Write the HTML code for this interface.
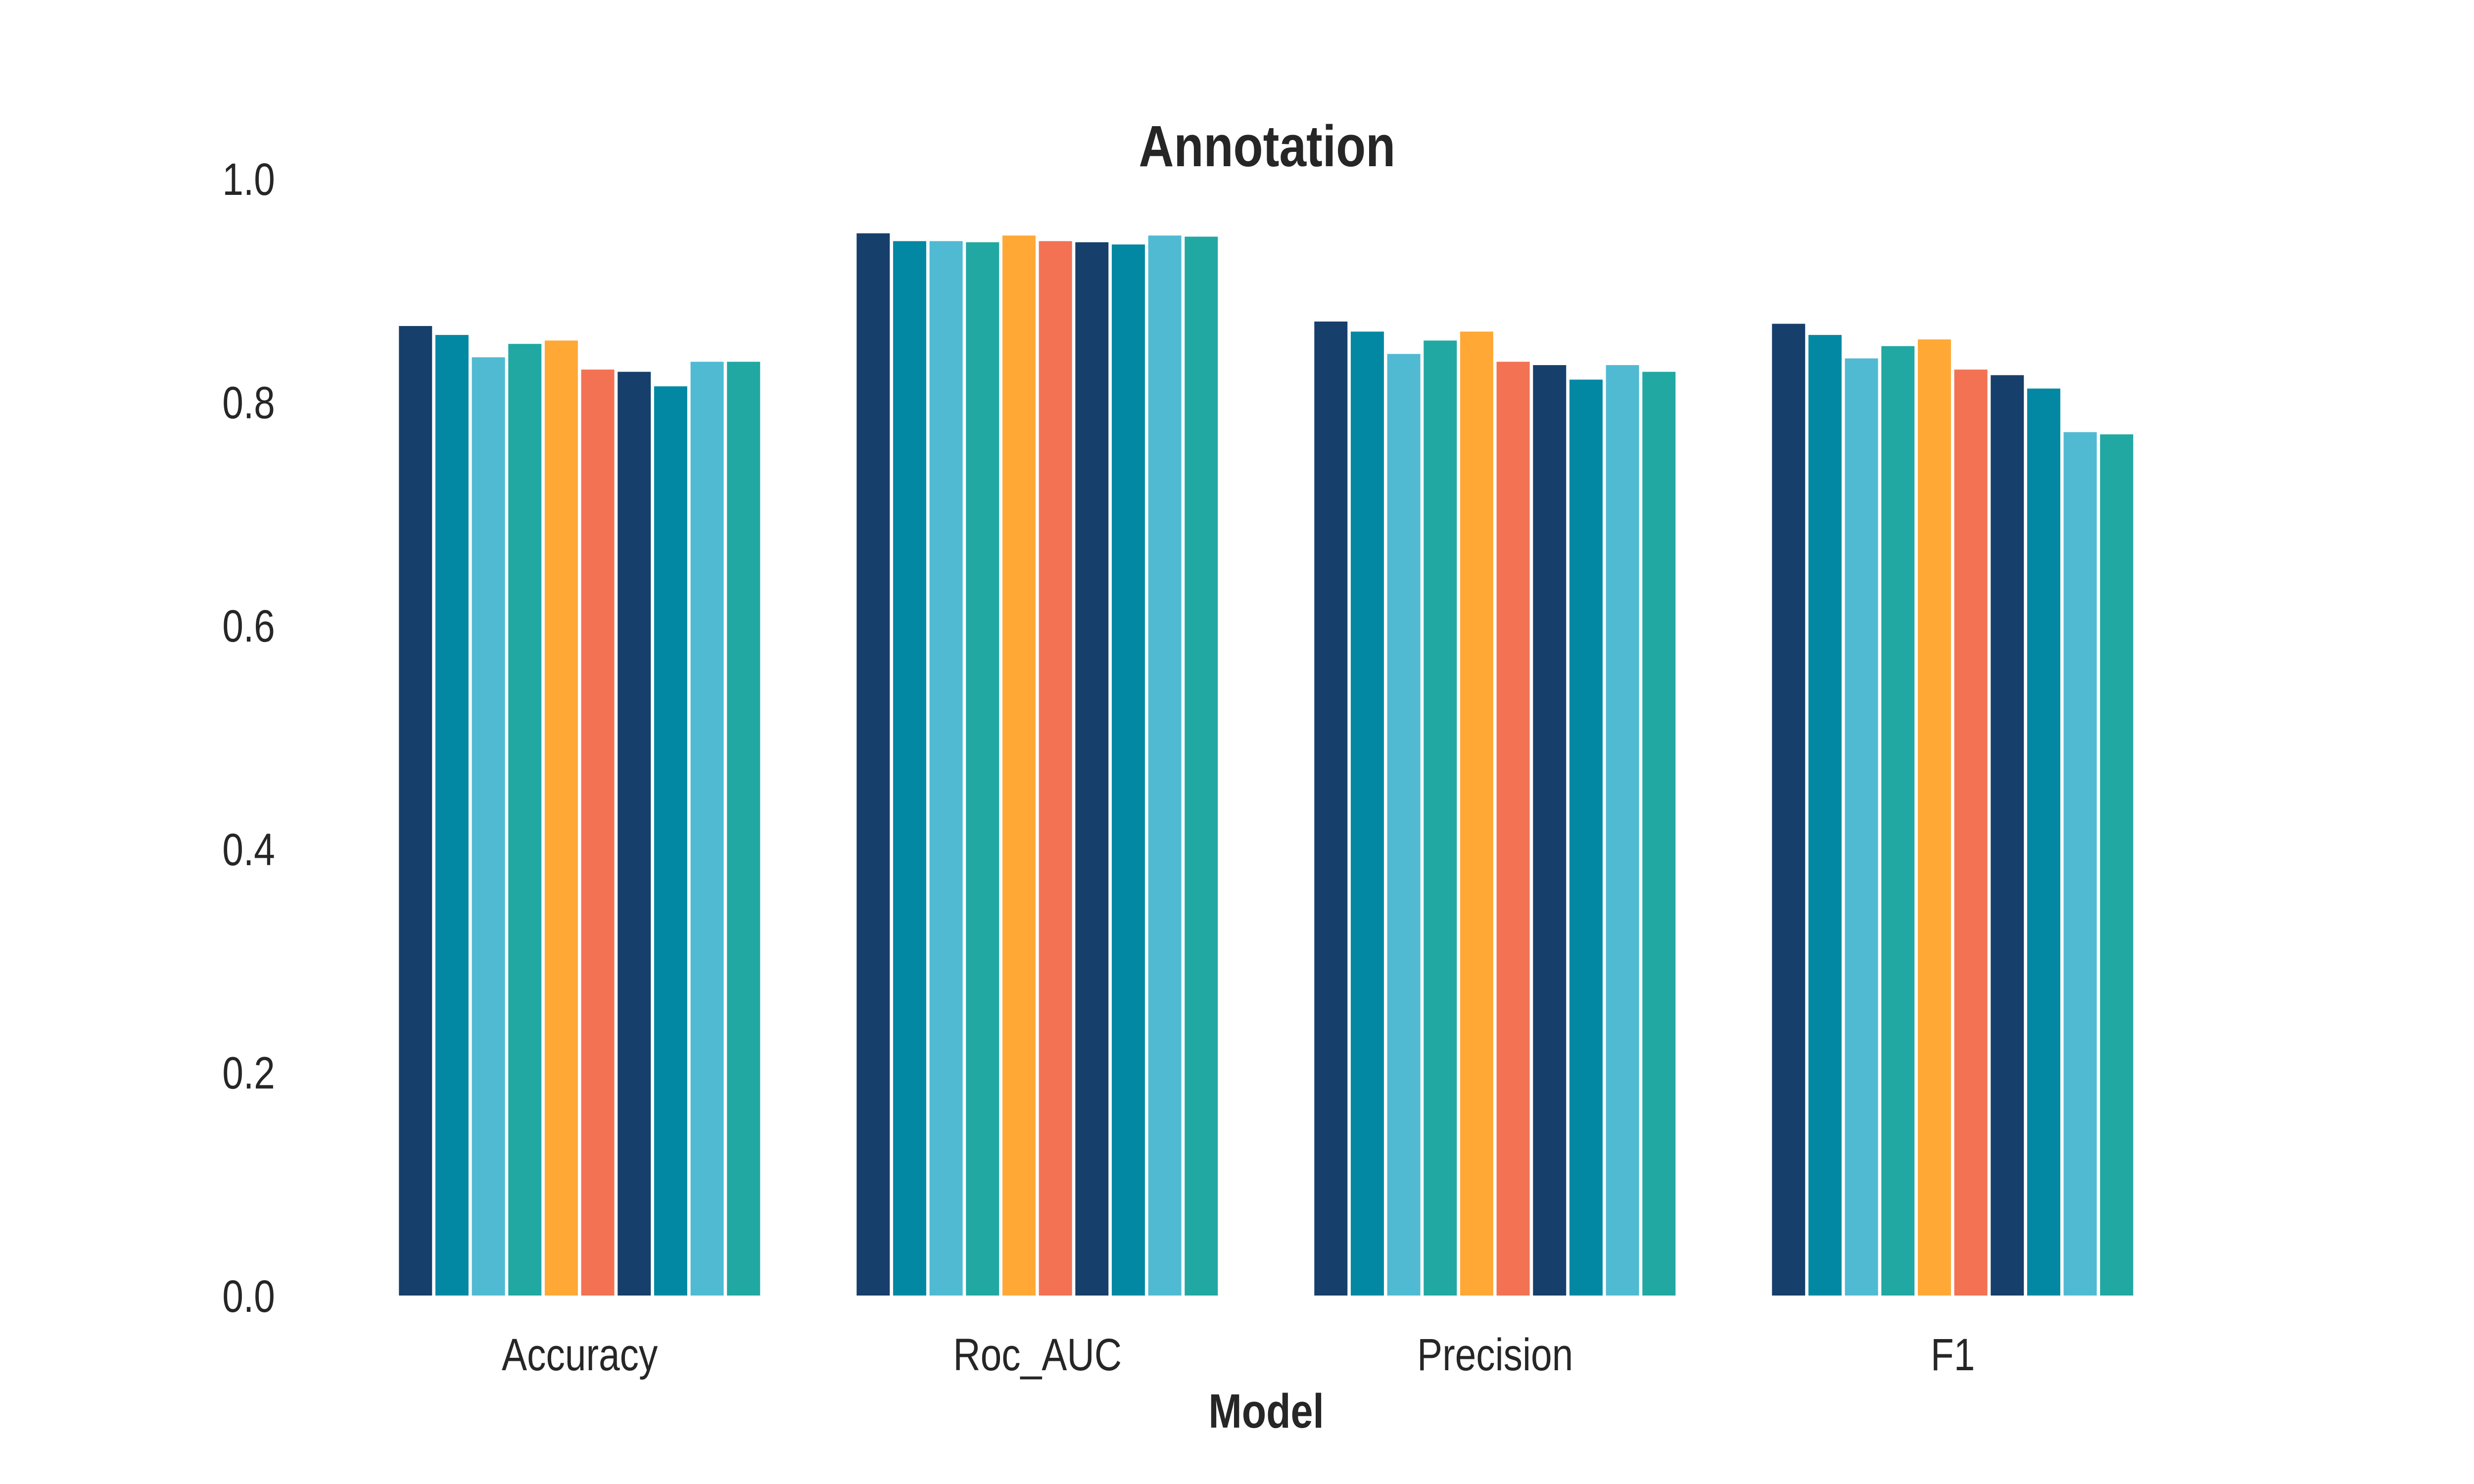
<!DOCTYPE html>
<html><head><meta charset="utf-8"><style>
html,body{margin:0;padding:0;background:#fff;overflow:hidden;width:100%;height:100%;}
svg{display:block;width:100vw;height:100vh;}
text{font-family:"Liberation Sans",Arial,sans-serif;fill:#262626;}
</style></head><body>
<svg id="chart" viewBox="0 0 6000 3000" preserveAspectRatio="none" xmlns="http://www.w3.org/2000/svg">
<rect x="0" y="0" width="6000" height="3000" fill="#fff"/>
<text x="3073" y="336" font-size="118" font-weight="bold" text-anchor="middle">Annotation</text>
<text x="3071" y="2886" font-size="97" font-weight="bold" text-anchor="middle">Model</text>
<g id="bars"></g>
<g id="yticks"></g>
<g id="xticks"></g>
</svg>
<script>
const categories = ["Accuracy", "Roc_AUC", "Precision", "F1"];
const accuracyValues = [0.868, 0.860, 0.840, 0.852, 0.855, 0.829, 0.827, 0.814, 0.836, 0.836];
const rocAucValues = [0.951, 0.944, 0.944, 0.943, 0.949, 0.944, 0.943, 0.941, 0.949, 0.948];
const precisionValues = [0.872, 0.863, 0.843, 0.855, 0.863, 0.836, 0.833, 0.820, 0.833, 0.827];
const f1Values = [0.870, 0.860, 0.839, 0.850, 0.856, 0.829, 0.824, 0.812, 0.773, 0.771];
const yTickValues = [0.0, 0.2, 0.4, 0.6, 0.8, 1.0];
const yTickLabels = ["0.0", "0.2", "0.4", "0.6", "0.8", "1.0"];
const colors = ["#173f6b", "#0288a3", "#50bad3", "#21a8a3", "#ffa836", "#f27253", "#173f6b", "#0288a3", "#50bad3", "#21a8a3"];

const groupValues = [accuracyValues, rocAucValues, precisionValues, f1Values];
const NS = "http://www.w3.org/2000/svg";
const y0 = 2619, yScale = 2258;
function yPos(v){ return y0 - v * yScale; }
const groupCenter0 = 1406, groupPitch = 1110, groupWidth = 884;
function xCenter(i){ return groupCenter0 + i * groupPitch; }

const barsG = document.getElementById('bars');
groupValues.forEach((vals, gi) => {
  const n = vals.length;
  const pitch = groupWidth / n;
  const left = xCenter(gi) - groupWidth / 2;
  vals.forEach((v, bi) => {
    const r = document.createElementNS(NS, 'rect');
    r.setAttribute('x', left + bi * pitch + 3.5);
    r.setAttribute('width', pitch - 8);
    r.setAttribute('y', yPos(v));
    r.setAttribute('height', y0 - yPos(v));
    r.setAttribute('fill', colors[bi % colors.length]);
    
    
    barsG.appendChild(r);
  });
});

const yG = document.getElementById('yticks');
yTickValues.forEach((v, i) => {
  const t = document.createElementNS(NS, 'text');
  t.setAttribute('x', 667);
  t.setAttribute('y', yPos(v) + 33);
  t.setAttribute('font-size', '92');
  t.setAttribute('text-anchor', 'end');
  t.textContent = yTickLabels[i];
  
  
  yG.appendChild(t);
});

const xG = document.getElementById('xticks');
categories.forEach((c, i) => {
  const t = document.createElementNS(NS, 'text');
  t.setAttribute('x', xCenter(i));
  t.setAttribute('y', 2770);
  t.setAttribute('font-size', '92');
  t.setAttribute('text-anchor', 'middle');
  t.textContent = c;
  
  
  xG.appendChild(t);
});
</script>
</body></html>
